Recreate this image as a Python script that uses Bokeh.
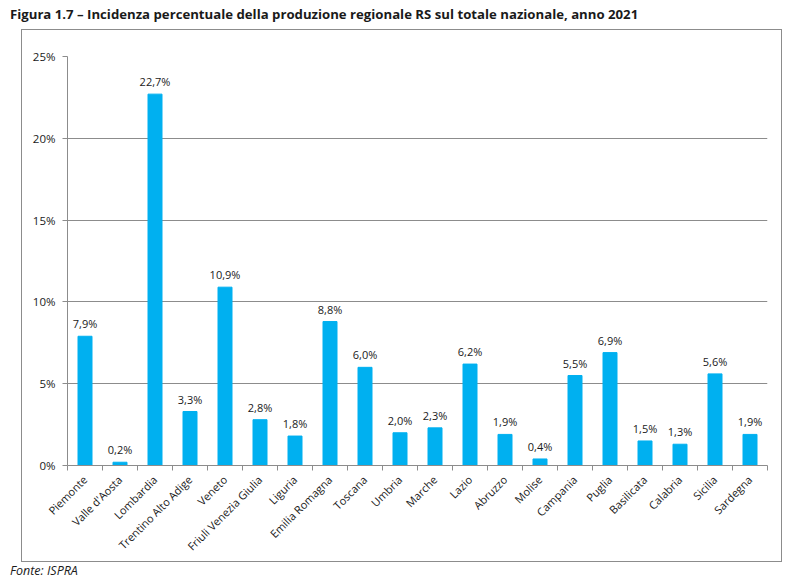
from bokeh.plotting import figure
from bokeh.models import (ColumnDataSource, FixedTicker, PrintfTickFormatter,
                          Range1d, Div)
from bokeh.layouts import column
from bokeh.core.properties import value
from bokeh.embed import file_html
from bokeh.resources import INLINE
import math

# Regional share of national special waste (RS) production, 2021 (%)
regions = ["Piemonte", "Valle d'Aosta", "Lombardia", "Trentino Alto Adige", "Veneto",
           "Friuli Venezia Giulia", "Liguria", "Emilia Romagna", "Toscana", "Umbria",
           "Marche", "Lazio", "Abruzzo", "Molise", "Campania", "Puglia", "Basilicata",
           "Calabria", "Sicilia", "Sardegna"]
shares = [7.9, 0.2, 22.7, 3.3, 10.9, 2.8, 1.8, 8.8, 6.0, 2.0,
          2.3, 6.2, 1.9, 0.4, 5.5, 6.9, 1.5, 1.3, 5.6, 1.9]
y_ticks = [0, 5, 10, 15, 20, 25]

TITLE = "Figura 1.7 – Incidenza percentuale della produzione regionale RS sul totale nazionale, anno 2021"
SOURCE = "Fonte: ISPRA"

FONT = "Open Sans"
GRAY = "#8c8c8c"
BAR = "#00b0f0"
TEXT = "#1a1a1a"

n = len(regions)
centers = [i + 0.5 for i in range(n)]
bounds = list(range(n + 1))

src = ColumnDataSource(dict(
    x=centers,
    top=shares,
    label=[f"{v:.1f}%".replace(".", ",") for v in shares],
))

p = figure(width=759, height=531, output_backend="svg", toolbar_location=None,
           x_range=Range1d(0, n), y_range=Range1d(0, 25),
           min_border_left=45, min_border_right=14,
           min_border_top=26, min_border_bottom=95,
           margin=(0, 0, 0, 22),
           styles={"outline": f"1px solid {GRAY}"})
p.outline_line_color = None
p.background_fill_color = "white"
p.border_fill_color = "white"

p.vbar(x="x", top="top", width=0.4, source=src, color=BAR)
p.text(x="x", y="top", text="label", source=src, y_offset=-5,
       text_align="center", text_baseline="bottom",
       text_font=value(FONT), text_font_size="11px", text_color=TEXT)

# y axis
p.yaxis.ticker = FixedTicker(ticks=y_ticks)
p.yaxis.formatter = PrintfTickFormatter(format="%d%%")
p.yaxis.axis_line_color = GRAY
p.yaxis.major_tick_line_color = GRAY
p.yaxis.major_tick_out = 5
p.yaxis.major_tick_in = 0
p.yaxis.minor_tick_line_color = None
p.yaxis.major_label_text_font = FONT
p.yaxis.major_label_text_font_size = "11.5px"
p.yaxis.major_label_text_color = TEXT
p.yaxis.major_label_standoff = 7
p.ygrid.grid_line_color = GRAY
p.ygrid.ticker = FixedTicker(ticks=y_ticks)

# x axis: names at bar centres, tick marks between categories
p.xaxis.ticker = FixedTicker(ticks=centers, minor_ticks=bounds)
p.xaxis.major_label_overrides = {c: r for c, r in zip(centers, regions)}
p.xaxis.major_label_orientation = math.pi / 4
p.xaxis.axis_line_color = GRAY
p.xaxis.major_tick_line_color = None
p.xaxis.minor_tick_line_color = GRAY
p.xaxis.minor_tick_out = 5
p.xaxis.minor_tick_in = 0
p.xaxis.major_label_text_font = FONT
p.xaxis.major_label_text_font_size = "11px"
p.xaxis.major_label_text_color = TEXT
p.xaxis.major_label_standoff = 6
p.xgrid.grid_line_color = None

title = Div(text=TITLE, width=801, height=30, margin=0,
            styles={"font-family": FONT, "font-weight": "bold", "font-size": "13.2px",
                    "color": TEXT, "padding-left": "10px", "line-height": "28px",
                    "white-space": "nowrap"})
source = Div(text=SOURCE, width=801, height=22, margin=0,
             styles={"font-family": FONT, "font-style": "italic", "font-size": "12.5px",
                     "color": TEXT, "padding-left": "10px", "line-height": "20px"})

layout = column(title, p, source, spacing=0, margin=0)

open("out.html", "w").write(file_html(layout, INLINE))
